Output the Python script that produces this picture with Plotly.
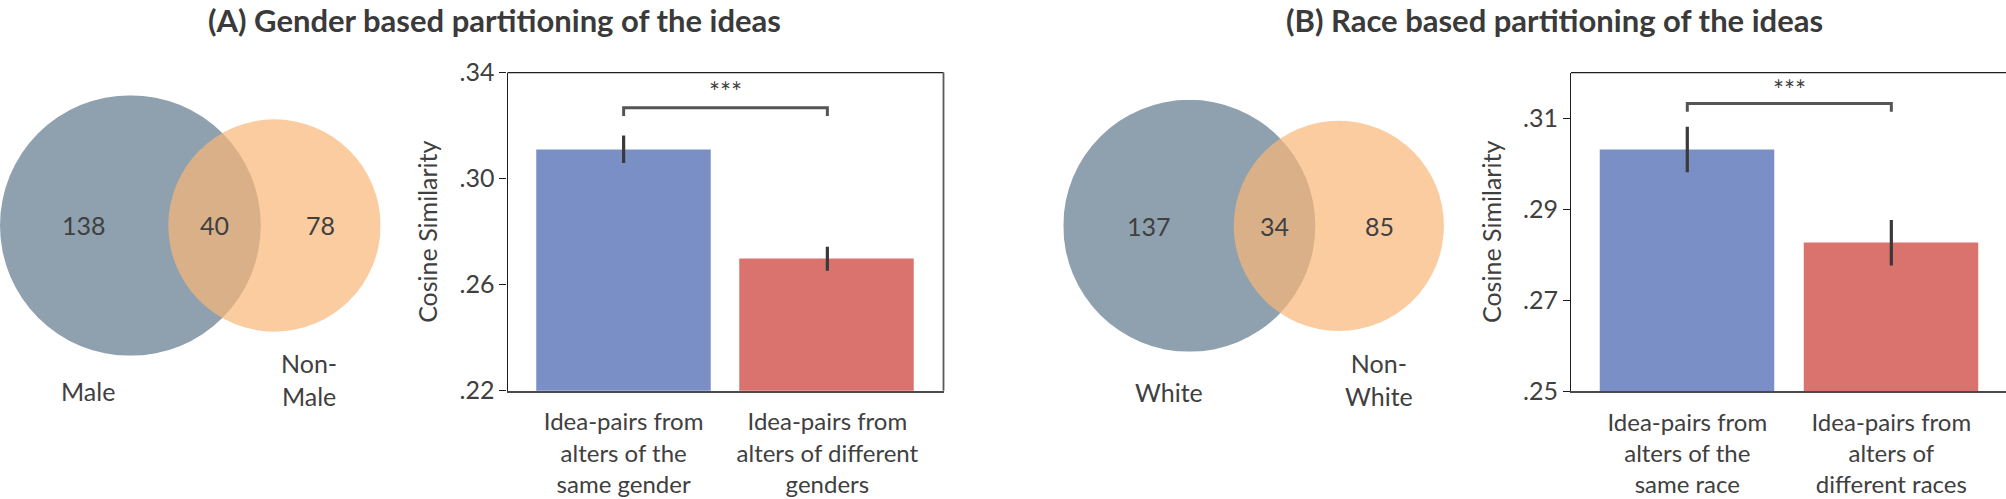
import math
import plotly.graph_objects as go

# ---------------- data ----------------
categories_gender = ["Idea-pairs from<br>alters of the<br>same gender",
                     "Idea-pairs from<br>alters of different<br>genders"]
means_gender = [0.3111, 0.2698]
errs_gender = [0.0052, 0.0045]
yticks_gender = [0.22, 0.26, 0.30, 0.34]
yticklabels_gender = [".22", ".26", ".30", ".34"]

categories_race = ["Idea-pairs from<br>alters of the<br>same race",
                   "Idea-pairs from<br>alters of<br>different races"]
means_race = [0.3031, 0.2826]
errs_race = [0.0050, 0.0050]
yticks_race = [0.25, 0.27, 0.29, 0.31]
yticklabels_race = [".25", ".27", ".29", ".31"]

venn_gender_counts = [138, 40, 78]   # only A, both, only B
venn_gender_sets = ["Male", "Non-<br>Male"]
venn_race_counts = [137, 34, 85]
venn_race_sets = ["White", "Non-<br>White"]

sig_label = "***"

# ---------------- layout helpers ----------------
W, H = 2006, 499
FONT = "Lato"
TXT = "#404040"
BLUE = "#7a8fc6"
RED = "#da736e"
GREY_C = "#8fa0af"
ORANGE_C = "rgb(248,182,119)"


def fx(px):
    return px / W


def fy(py):
    return 1 - py / H


def lens_area(r1, r2, d):
    if d >= r1 + r2:
        return 0.0
    if d <= abs(r1 - r2):
        return math.pi * min(r1, r2) ** 2
    a1 = r1 ** 2 * math.acos((d * d + r1 * r1 - r2 * r2) / (2 * d * r1))
    a2 = r2 ** 2 * math.acos((d * d + r2 * r2 - r1 * r1) / (2 * d * r2))
    k = 0.5 * math.sqrt((-d + r1 + r2) * (d + r1 - r2) * (d - r1 + r2) * (d + r1 + r2))
    return a1 + a2 - k


def solve_d(r1, r2, area):
    lo, hi = abs(r1 - r2) + 1e-9, r1 + r2
    for _ in range(200):
        mid = (lo + hi) / 2
        if lens_area(r1, r2, mid) > area:
            lo = mid
        else:
            hi = mid
    return (lo + hi) / 2


fig = go.Figure()
shapes = []
annotations = []
layout_axes = {}


def add_venn(idx, counts, set_labels, left_px, cy_px, scale, set_shifts):
    only_a, both, only_b = counts
    r1 = math.sqrt((only_a + both) / math.pi)
    r2 = math.sqrt((only_b + both) / math.pi)
    d = solve_d(r1, r2, both)
    xr = [-r1, d + r2]
    width_px = scale * (d + r1 + r2)
    top_px = cy_px - scale * r1
    bot_px = cy_px + scale * r1
    xa, ya = f"xaxis{idx}", f"yaxis{idx}"
    xref, yref = f"x{idx}", f"y{idx}"
    layout_axes[xa] = dict(domain=[fx(left_px), fx(left_px + width_px)], range=xr,
                           visible=False, fixedrange=True, anchor=yref, automargin=False)
    layout_axes[ya] = dict(domain=[fy(bot_px), fy(top_px)], range=[-r1, r1],
                           visible=False, fixedrange=True, anchor=xref, automargin=False)
    fig.add_trace(go.Scatter(x=xr, y=[0, 0], mode="markers", marker=dict(opacity=0),
                             xaxis=xref, yaxis=yref, hoverinfo="skip", showlegend=False))
    shapes.append(dict(type="circle", xref=xref, yref=yref, x0=-r1, x1=r1, y0=-r1, y1=r1,
                       fillcolor=GREY_C, line=dict(width=0), layer="above"))
    shapes.append(dict(type="circle", xref=xref, yref=yref, x0=d - r2, x1=d + r2,
                       y0=-r2, y1=r2, fillcolor=ORANGE_C, opacity=0.7,
                       line=dict(width=0), layer="above"))
    xa_only = (-r1 + (d - r2)) / 2
    x_both = ((d - r2) + r1) / 2
    xb_only = (r1 + d + r2) / 2
    for xv, val in zip([xa_only, x_both, xb_only], counts):
        annotations.append(dict(x=xv, y=0, xref=xref, yref=yref, text=str(val),
                                showarrow=False, font=dict(family=FONT, size=25, color=TXT),
                                xanchor="center", yanchor="middle"))
    (sx1, sy1), (sx2, sy2) = set_shifts
    annotations.append(dict(x=xa_only, y=0, xref=xref, yref=yref, text=set_labels[0],
                            showarrow=False, xshift=sx1, yshift=sy1,
                            font=dict(family=FONT, size=25, color=TXT),
                            xanchor="center", yanchor="middle"))
    annotations.append(dict(x=xb_only, y=0, xref=xref, yref=yref, text=set_labels[1],
                            showarrow=False, xshift=sx2, yshift=sy2,
                            font=dict(family=FONT, size=25, color=TXT),
                            xanchor="center", yanchor="middle"))


add_venn(3, venn_gender_counts, venn_gender_sets, 0, 225.5, 17.32, [(4, -166), (-12, -154)])
add_venn(4, venn_race_counts, venn_race_sets, 1063.3, 225.8, 17.08, [(20, -166), (-1, -154)])


def add_bars(idx, cats, means, errs, yticks, ytl, yrange, xdom_px, ydom_px, bracket, star_y,
             right_spine):
    xref = "x" if idx == 1 else f"x{idx}"
    yref = "y" if idx == 1 else f"y{idx}"
    fig.add_trace(go.Bar(x=cats, y=means, width=0.86,
                         marker=dict(color=[BLUE, RED],
                                     line=dict(width=1, color="rgba(255,255,255,0.5)")),
                         error_y=dict(type="data", array=errs, color="#3a3a3a",
                                      thickness=3.2, width=0),
                         xaxis=xref, yaxis=yref, showlegend=False))
    lo, hi = bracket
    fig.add_trace(go.Scatter(x=[cats[0], cats[0], cats[1], cats[1]], y=[lo, hi, hi, lo],
                             mode="lines", line=dict(color="#555555", width=3),
                             xaxis=xref, yaxis=yref, showlegend=False, hoverinfo="skip"))
    annotations.append(dict(x=0.5, y=star_y, xref=xref, yref=yref, text=sig_label,
                            showarrow=False, font=dict(family=FONT, size=26, color=TXT),
                            xanchor="center", yanchor="middle"))
    xa = "xaxis" if idx == 1 else f"xaxis{idx}"
    ya = "yaxis" if idx == 1 else f"yaxis{idx}"
    x0, x1, xr = xdom_px
    layout_axes[xa] = dict(domain=[fx(x0), min(1.0, fx(x1))], range=xr, type="category",
                           showline=True, linecolor="#4a4a4a", linewidth=1.6, mirror=False,
                           ticks="", showgrid=False, zeroline=False, anchor=yref,
                           automargin=False,
                           tickfont=dict(family=FONT, size=24, color=TXT),
                           ticklabelstandoff=9)
    t, b = ydom_px
    layout_axes[ya] = dict(domain=[fy(b), fy(t)], range=yrange, tickvals=yticks,
                           ticktext=ytl, showline=True, linecolor="#1e1e1e", linewidth=1.1,
                           mirror=False, ticks="outside", ticklen=7, tickwidth=1.1,
                           tickcolor="#1e1e1e", showgrid=False, zeroline=False, anchor=xref,
                           automargin=False,
                           tickfont=dict(family=FONT, size=25, color=TXT),
                           title=dict(text="Cosine Similarity", standoff=14,
                                      font=dict(family=FONT, size=25, color=TXT)))
    shapes.append(dict(type="line", xref=f"{xref} domain", yref=f"{yref} domain",
                       x0=0, x1=1, y0=1, y1=1, line=dict(color="#1e1e1e", width=1.2),
                       layer="above"))
    if right_spine:
        shapes.append(dict(type="line", xref=f"{xref} domain", yref=f"{yref} domain",
                           x0=1, x1=1, y0=0, y1=1, line=dict(color="#5a5a5a", width=1.8),
                           layer="above"))


add_bars(1, categories_gender, means_gender, errs_gender, yticks_gender, yticklabels_gender,
         [0.22, 0.34], (507.5, 943.5, [-0.57, 1.57]), (72.7, 390.7),
         (0.3237, 0.3268), 0.3328, True)
add_bars(2, categories_race, means_race, errs_race, yticks_race, yticklabels_race,
         [0.25, 0.32], (1571.0, 2006.0, [-0.57, 1.562]), (72.7, 391.0),
         (0.3114, 0.3132), 0.3162, False)

annotations.append(dict(x=fx(494), y=fy(20), xref="paper", yref="paper",
                        text="(A) Gender based partitioning of the ideas", showarrow=False,
                        font=dict(family=FONT, size=31, color="#3a3a3a", weight="bold"),
                        xanchor="center", yanchor="middle"))
annotations.append(dict(x=fx(1554), y=fy(20), xref="paper", yref="paper",
                        text="(B) Race based partitioning of the ideas", showarrow=False,
                        font=dict(family=FONT, size=31, color="#3a3a3a", weight="bold"),
                        xanchor="center", yanchor="middle"))

fig.update_layout(width=W, height=H, autosize=False, margin=dict(l=0, r=0, t=0, b=0, pad=0),
                  paper_bgcolor="white", plot_bgcolor="white", bargap=0,
                  shapes=shapes, annotations=annotations, showlegend=False,
                  font=dict(family=FONT, color=TXT), **layout_axes)

fig.write_html("out.html", config={"displayModeBar": False},
               post_script="document.body.style.margin='0';document.body.style.overflow='hidden';")
